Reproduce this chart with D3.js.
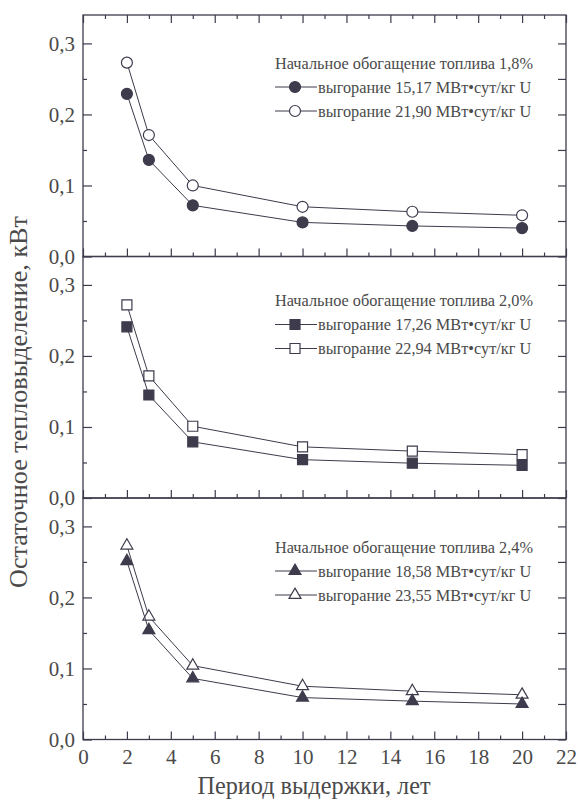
<!DOCTYPE html>
<html><head><meta charset="utf-8">
<script src="https://cdn.jsdelivr.net/npm/d3@7"></script>
<style>
html,body{margin:0;padding:0;background:#fff;}
svg{display:block;}
</style></head>
<body><div id="chart"></div>
<script>
// ---- data ----
const years = [2, 3, 5, 10, 15, 20];
const xTicks = [0, 2, 4, 6, 8, 10, 12, 14, 16, 18, 20, 22];
const yTicks = [0.0, 0.1, 0.2, 0.3];
const enrichment = ["1,8%", "2,0%", "2,4%"];
const burnupLow  = ["15,17", "17,26", "18,58"];
const burnupHigh = ["21,90", "22,94", "23,55"];
const low18  = [0.229, 0.136, 0.072, 0.048, 0.043, 0.040];
const high18 = [0.273, 0.171, 0.100, 0.070, 0.063, 0.058];
const low20  = [0.241, 0.145, 0.079, 0.054, 0.049, 0.046];
const high20 = [0.272, 0.172, 0.101, 0.072, 0.066, 0.061];
const low24  = [0.251, 0.154, 0.086, 0.059, 0.054, 0.050];
const high24 = [0.273, 0.173, 0.104, 0.075, 0.068, 0.063];
const xLabel = "Период выдержки, лет";
const yLabel = "Остаточное тепловыделение, кВт";

// ---- layout ----
const W = 578, H = 803;
const left = 83, right = 566, top0 = 15, ph = 241.5;
const ink = "#3d3b4c", txt = "#4a4a4a";
const serif = '"Liberation Serif","Times New Roman",Times,serif';
const panels = [
  {enr: enrichment[0], lo: low18, hi: high18, bl: burnupLow[0], bh: burnupHigh[0], shape: d3.symbolCircle, size: 95, legY: 48},
  {enr: enrichment[1], lo: low20, hi: high20, bl: burnupLow[1], bh: burnupHigh[1], shape: d3.symbolSquare, size: 100, legY: 44},
  {enr: enrichment[2], lo: low24, hi: high24, bl: burnupLow[2], bh: burnupHigh[2], shape: d3.symbolTriangle, size: 62, legY: 49}
];

const svg = d3.select("#chart").append("svg").attr("width", W).attr("height", H)
  .attr("font-family", serif);
const x = d3.scaleLinear().domain([0, 22]).range([left, right]);
const fmt = v => d3.format(".1f")(v).replace(".", ",");

panels.forEach((p, i) => {
  const t = top0 + i * ph, b = t + ph;
  const y = d3.scaleLinear().domain([0, 0.34]).range([b, t]);
  const g = svg.append("g");

  g.append("rect").attr("x", left).attr("y", t).attr("width", right - left).attr("height", ph)
    .attr("fill", "none").attr("stroke", ink).attr("stroke-width", 1.3);

  const styleAxis = sel => {
    sel.attr("font-family", serif);
    sel.select(".domain").remove();
    sel.selectAll("line").attr("stroke", ink).attr("stroke-width", 1.2);
    sel.selectAll("text").attr("font-family", serif).style("font-size", "21px").attr("fill", txt);
  };
  g.append("g").attr("transform", `translate(${left},0)`)
    .call(d3.axisLeft(y).tickValues(yTicks).tickSize(-9).tickPadding(8).tickFormat(fmt)).call(styleAxis);
  g.append("g").attr("transform", `translate(${left},0)`)
    .call(d3.axisLeft(y).tickValues([0.05, 0.15, 0.25]).tickSize(-4).tickFormat("")).call(styleAxis);
  g.append("g").attr("transform", `translate(${right},0)`)
    .call(d3.axisRight(y).tickValues(yTicks.concat([0.05, 0.15, 0.25])).tickSize(-8).tickFormat("")).call(styleAxis);
  const bot = d3.axisBottom(x).tickValues(xTicks).tickSize(-8).tickPadding(10);
  g.append("g").attr("transform", `translate(0,${b})`)
    .call(i === 2 ? bot.tickFormat(d3.format("d")) : bot.tickFormat("")).call(styleAxis);
  g.append("g").attr("transform", `translate(0,${b})`)
    .call(d3.axisBottom(x).tickValues(d3.range(1, 22, 2)).tickSize(-4).tickFormat("")).call(styleAxis);
  if (i === 0) {
    g.append("g").attr("transform", `translate(0,${t})`)
      .call(d3.axisTop(x).tickValues(xTicks).tickSize(-8).tickFormat("")).call(styleAxis);
    g.append("g").attr("transform", `translate(0,${t})`)
      .call(d3.axisTop(x).tickValues(d3.range(1, 22, 2)).tickSize(-4).tickFormat("")).call(styleAxis);
  }

  const line = d3.line().x((d, k) => x(years[k])).y(d => y(d));
  const sym = d3.symbol().type(p.shape).size(p.size);
  [[p.hi, "#fff"], [p.lo, ink]].forEach(([vals, fill]) => {
    g.append("path").datum(vals).attr("d", line).attr("fill", "none").attr("stroke", ink).attr("stroke-width", 1);
    g.selectAll(null).data(vals).enter().append("path")
      .attr("d", sym).attr("transform", (d, k) => `translate(${x(years[k])},${y(d)})`)
      .attr("fill", fill).attr("stroke", ink).attr("stroke-width", 1.2);
  });

  const lx = 275, ly = t + p.legY;
  g.append("text").attr("x", lx).attr("y", ly).attr("dy", "0.35em").attr("fill", txt).style("font-size", "16.3px")
    .text("Начальное обогащение топлива " + p.enr);
  [[p.bl, ink], [p.bh, "#fff"]].forEach(([bu, fill], r) => {
    const yy = ly + 24 * (r + 1);
    g.append("line").attr("x1", lx).attr("x2", lx + 42).attr("y1", yy).attr("y2", yy).attr("stroke", ink).attr("stroke-width", 1.2);
    g.append("path").attr("d", sym).attr("transform", `translate(${lx + 20},${yy})`)
      .attr("fill", fill).attr("stroke", ink).attr("stroke-width", 1.2);
    g.append("text").attr("x", lx + 43).attr("y", yy).attr("dy", "0.35em").attr("fill", txt).style("font-size", "16.3px")
      .text("выгорание " + bu + " МВт•сут/кг U");
  });
});

// axis titles, sized to span the same length as in the source
function fit(sel, target, base) {
  const len = sel.node().getComputedTextLength();
  if (len > 0) sel.style("font-size", (base * target / len).toFixed(2) + "px");
}
const yt = svg.append("text").attr("transform", `translate(18,402) rotate(-90)`)
  .attr("text-anchor", "middle").attr("dy", "0.35em").attr("fill", txt).style("font-size", "24px").text(yLabel);
fit(yt, 372, 24);
const xt = svg.append("text").attr("x", 314).attr("y", 786).attr("text-anchor", "middle").attr("dy", "0.35em")
  .attr("fill", txt).style("font-size", "24px").text(xLabel);
fit(xt, 233, 24);
</script></body></html>
